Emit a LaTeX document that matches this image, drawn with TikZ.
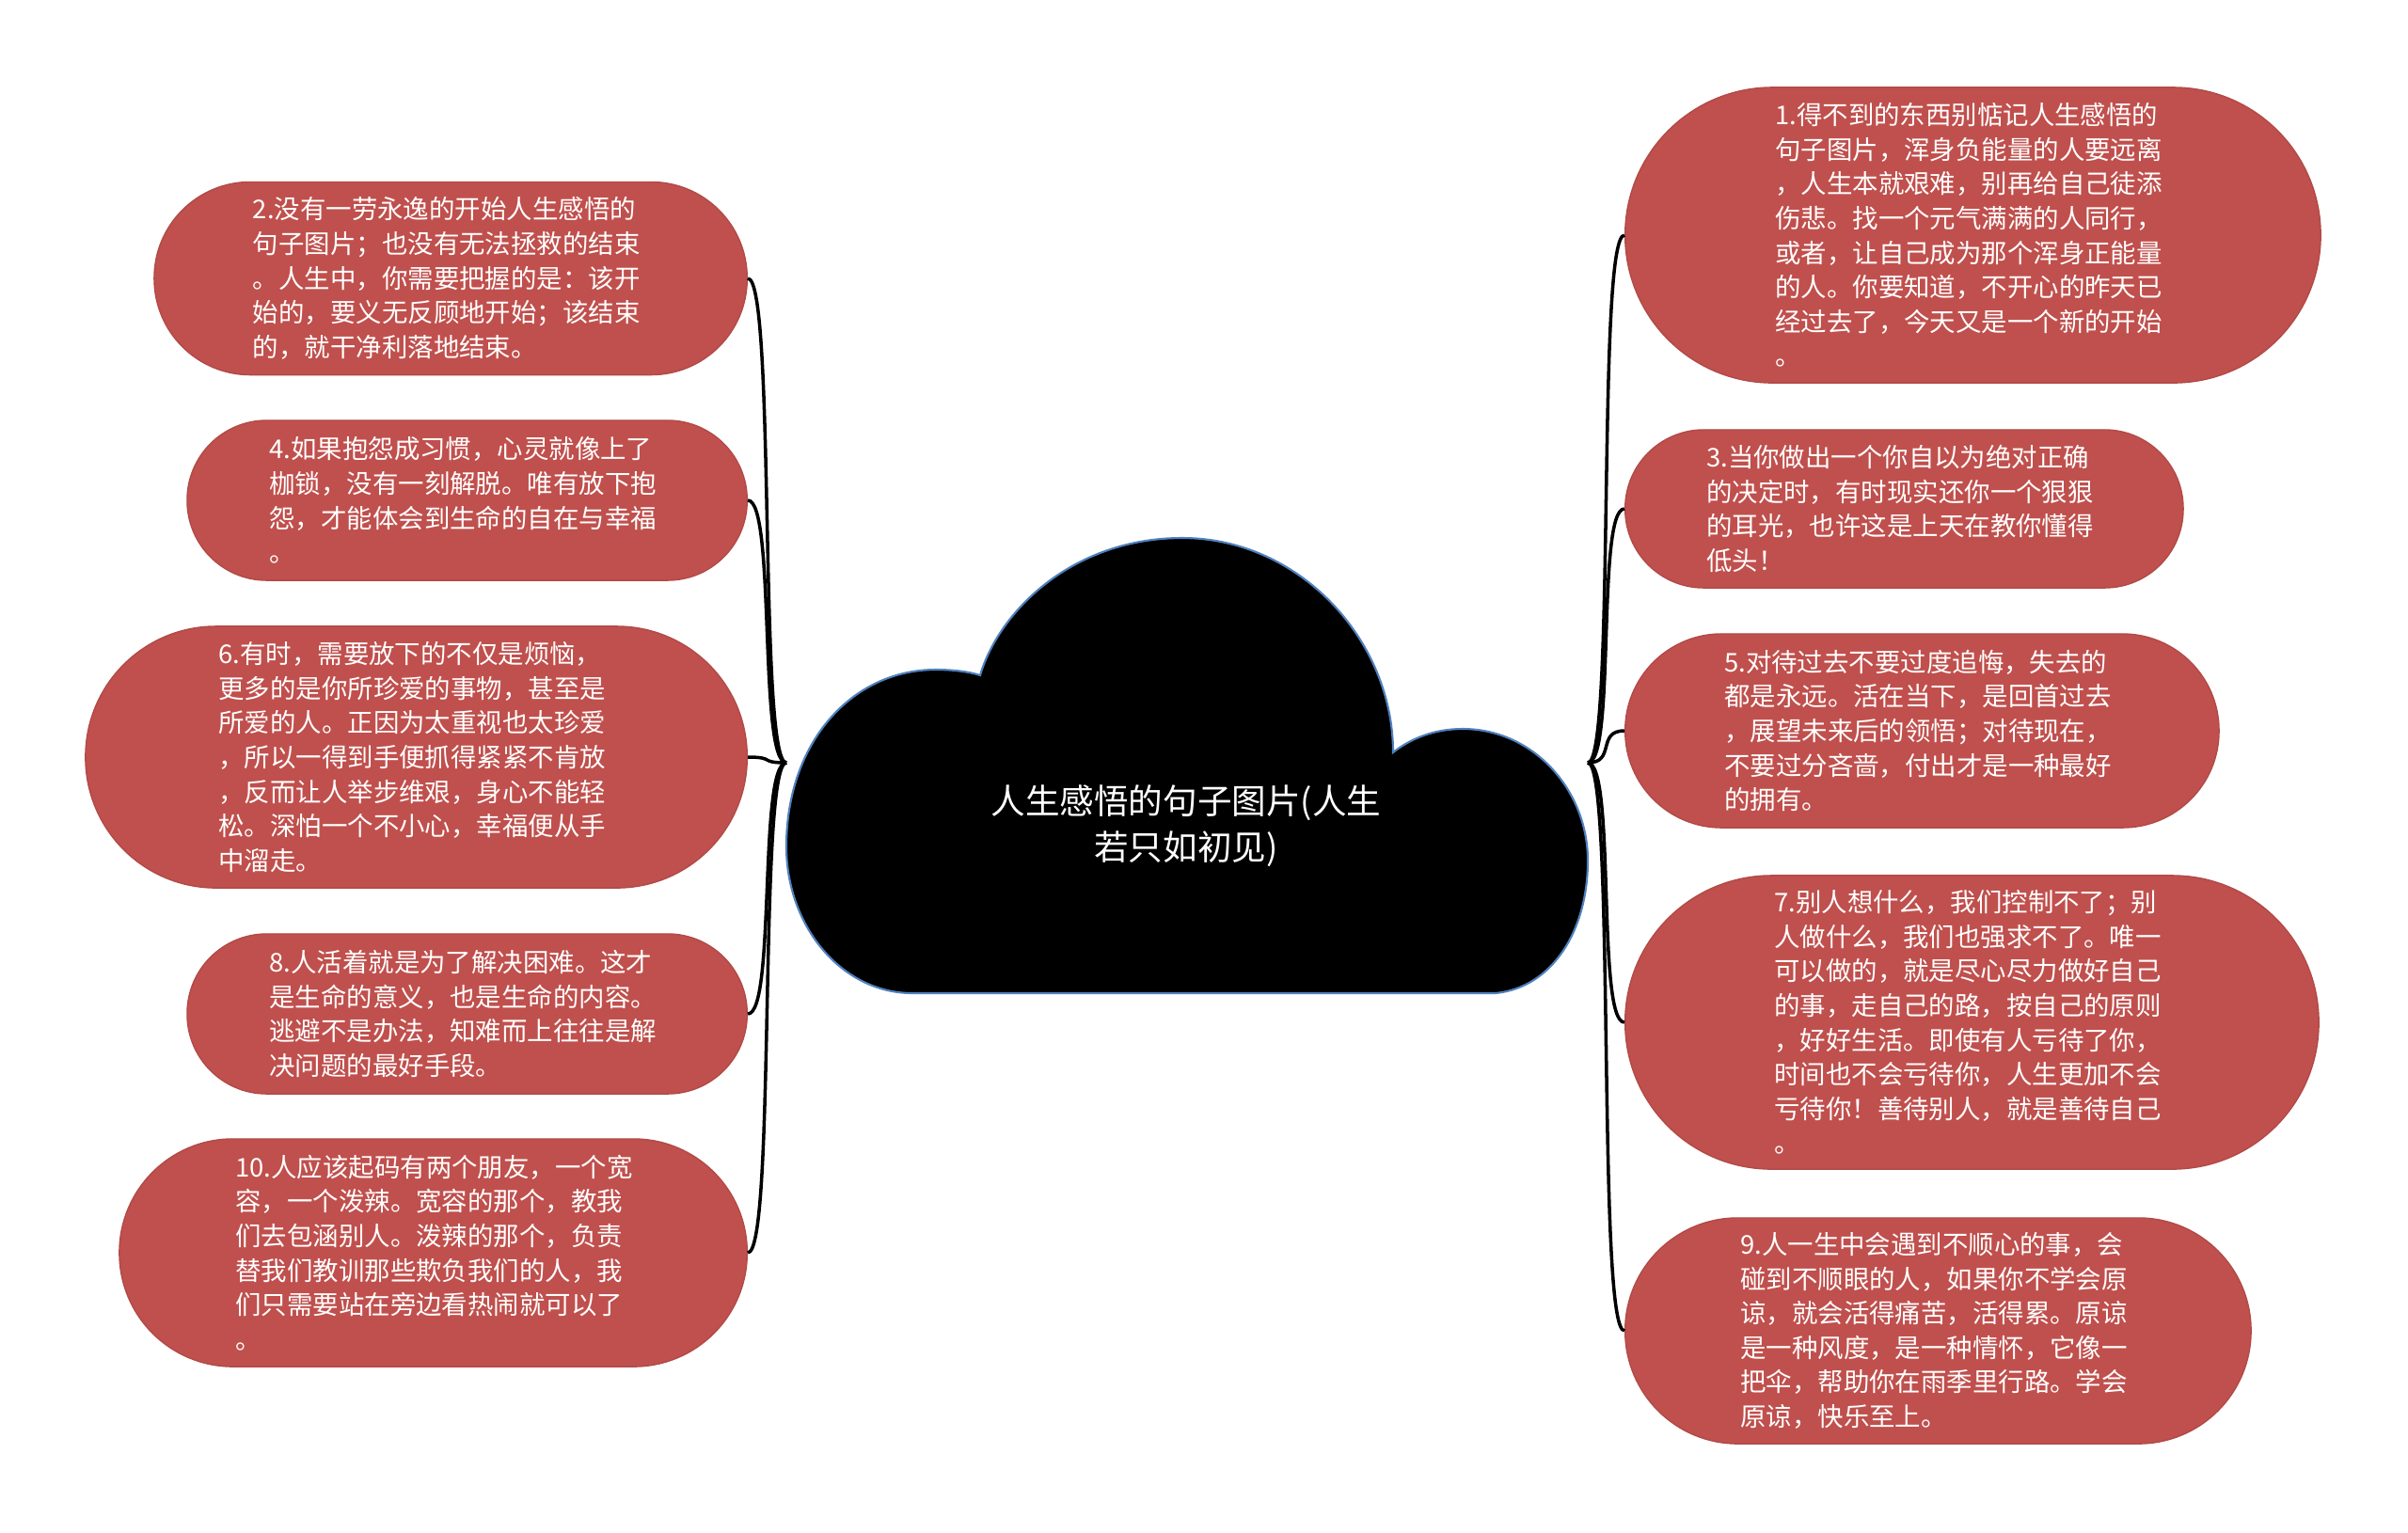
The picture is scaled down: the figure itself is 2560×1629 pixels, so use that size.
\documentclass[tikz,border=0pt]{standalone}
\usepackage{fontspec}
\newfontfamily\cjk{Noto Sans CJK SC}

\definecolor{ideared}{HTML}{C0504D}
\definecolor{cloudedge}{HTML}{4F81BD}

\begin{document}
\begin{tikzpicture}[x=0.01cm, y=-0.01cm,
  % stadium box: the value is the height, the ends are half circles
  idea/.style={rectangle, minimum height=#1, inner ysep=0pt,
    inner xsep=#1/2+0.025cm, rounded corners=#1/2-0.1pt,
    fill=ideared, draw=ideared!92!black, line width=0.4pt,
    text=white, font=\cjk\fontsize{7.8}{10.4}\selectfont,
    text width=4.2cm, align=left},
  link/.style={line width=1pt, black}]

% page is 2560 x 1629 (one unit = one pixel of the reference)
\useasboundingbox (0,0) rectangle (2560,1629);

% cloud in the middle: big lobe on top, small lobes left and right, flat bottom
\filldraw[fill=black, draw=cloudedge, line width=0.6pt]
  (970,1056) -- (1590,1056)
  .. controls (1650,1050) and (1688,990) .. (1688,915)
  .. controls (1688,840) and (1630,775) .. (1555,775)
  .. controls (1525,775) and (1500,785) .. (1481,800)
  .. controls (1481,680) and (1381,572) .. (1257,572)
  .. controls (1140,572) and (1062,650) .. (1042,718)
  .. controls (1030,714) and (1012,712) .. (995,712)
  .. controls (905,712) and (836,790) .. (836,900)
  .. controls (836,985) and (895,1056) .. (970,1056) -- cycle;

\node[text=white, align=center, font=\cjk\fontsize{10.4}{14}\selectfont] (title) at (1261,878)
  {人生感悟的句子图片(人生\\若只如初见)};

% where the branches leave the cloud
\coordinate (hubL) at (836,811);
\coordinate (hubR) at (1688,811);

% ---- left side (even numbers) ----
\node[idea=2.05cm, anchor=east] (n2) at (795,296)
  {2.没有一劳永逸的开始人生感悟的\\句子图片；也没有无法拯救的结束\\。人生中，你需要把握的是：该开\\始的，要义无反顾地开始；该结束\\的，就干净利落地结束。};
\node[idea=1.70cm, anchor=east] (n4) at (795,532)
  {4.如果抱怨成习惯，心灵就像上了\\枷锁，没有一刻解脱。唯有放下抱\\怨，才能体会到生命的自在与幸福\\。};
\node[idea=2.78cm, anchor=east] (n6) at (795,805)
  {6.有时，需要放下的不仅是烦恼，\\更多的是你所珍爱的事物，甚至是\\所爱的人。正因为太重视也太珍爱\\，所以一得到手便抓得紧紧不肯放\\，反而让人举步维艰，身心不能轻\\松。深怕一个不小心，幸福便从手\\中溜走。};
\node[idea=1.70cm, anchor=east] (n8) at (795,1078)
  {8.人活着就是为了解决困难。这才\\是生命的意义，也是生命的内容。\\逃避不是办法，知难而上往往是解\\决问题的最好手段。};
\node[idea=2.42cm, anchor=east] (n10) at (795,1332)
  {10.人应该起码有两个朋友，一个宽\\容，一个泼辣。宽容的那个，教我\\们去包涵别人。泼辣的那个，负责\\替我们教训那些欺负我们的人，我\\们只需要站在旁边看热闹就可以了\\。};

% ---- right side (odd numbers) ----
\node[idea=3.14cm, anchor=west] (n1) at (1727,250)
  {1.得不到的东西别惦记人生感悟的\\句子图片，浑身负能量的人要远离\\，人生本就艰难，别再给自己徒添\\伤悲。找一个元气满满的人同行，\\或者，让自己成为那个浑身正能量\\的人。你要知道，不开心的昨天已\\经过去了，今天又是一个新的开始\\。};
\node[idea=1.68cm, anchor=west] (n3) at (1727,541)
  {3.当你做出一个你自以为绝对正确\\的决定时，有时现实还你一个狠狠\\的耳光，也许这是上天在教你懂得\\低头！};
\node[idea=2.06cm, anchor=west] (n5) at (1727,777)
  {5.对待过去不要过度追悔，失去的\\都是永远。活在当下，是回首过去\\，展望未来后的领悟；对待现在，\\不要过分吝啬，付出才是一种最好\\的拥有。};
\node[idea=3.12cm, anchor=west] (n7) at (1727,1087)
  {7.别人想什么，我们控制不了；别\\人做什么，我们也强求不了。唯一\\可以做的，就是尽心尽力做好自己\\的事，走自己的路，按自己的原则\\，好好生活。即使有人亏待了你，\\时间也不会亏待你，人生更加不会\\亏待你！善待别人，就是善待自己\\。};
\node[idea=2.40cm, anchor=west] (n9) at (1727,1415)
  {9.人一生中会遇到不顺心的事，会\\碰到不顺眼的人，如果你不学会原\\谅，就会活得痛苦，活得累。原谅\\是一种风度，是一种情怀，它像一\\把伞，帮助你在雨季里行路。学会\\原谅，快乐至上。};

% branches
\foreach \n in {n2,n4,n6,n8,n10}
  \draw[link] (hubL) .. controls +(-30,0) and +(30,0) .. (\n.east);
\foreach \n in {n1,n3,n5,n7,n9}
  \draw[link] (hubR) .. controls +(30,0) and +(-30,0) .. (\n.west);

\end{tikzpicture}
\end{document}
